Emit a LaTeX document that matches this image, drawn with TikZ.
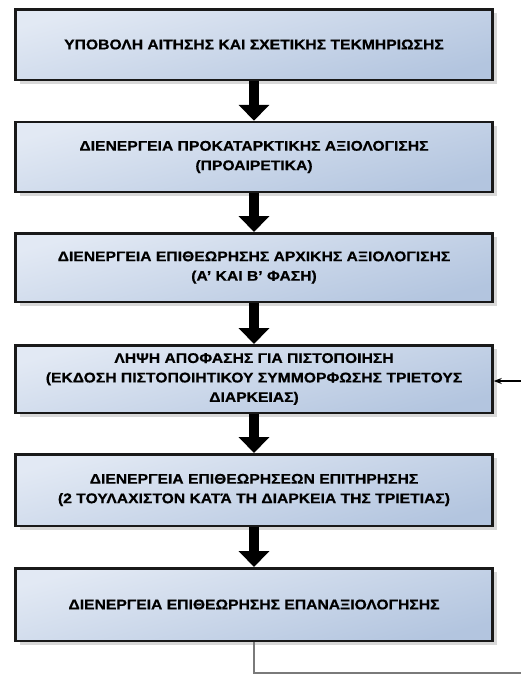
\documentclass[tikz,border=0pt]{standalone}
\usepackage{fontspec}
\setmainfont{Liberation Sans}
\newfontfamily\boxfont[FakeStretch=1.12,BoldFeatures={FakeBold=0.6}]{Liberation Sans}
\usetikzlibrary{arrows.meta,shadows}
\definecolor{boxtop}{HTML}{E2E9F4}
\definecolor{boxbot}{HTML}{B3C5DF}
\definecolor{fbgray}{HTML}{7A7A7A}
\tikzset{
  stepbox/.style={draw=black!90, line width=2.5pt, shade, top color=boxtop, bottom color=boxbot,
    shading angle=15, minimum width=477pt, align=center,
    font=\boxfont\bfseries\fontsize{14pt}{19.5pt}\selectfont, inner sep=0pt,
    drop shadow={shadow xshift=4pt, shadow yshift=-4pt, fill=black!30, opacity=0.5}},
  bigarrow/.style={line width=10pt, -{Triangle[width=30pt,length=16pt]}, shorten >=0pt},
}
\begin{document}
\begin{tikzpicture}[x=1pt,y=-1pt]
\useasboundingbox (0,0) rectangle (521,675);
\node[stepbox, minimum height=70.5pt] (b1) at (254,44.5) {ΥΠΟΒΟΛΗ ΑΙΤΗΣΗΣ ΚΑΙ ΣΧΕΤΙΚΗΣ ΤΕΚΜΗΡΙΩΣΗΣ};
\node[stepbox, minimum height=70pt] (b2) at (254,157) {ΔΙΕΝΕΡΓΕΙΑ ΠΡΟΚΑΤΑΡΚΤΙΚΗΣ ΑΞΙΟΛΟΓΙΣΗΣ\\(ΠΡΟΑΙΡΕΤΙΚΑ)};
\node[stepbox, minimum height=68.5pt] (b3) at (254,267.5) {ΔΙΕΝΕΡΓΕΙΑ ΕΠΙΘΕΩΡΗΣΗΣ ΑΡΧΙΚΗΣ ΑΞΙΟΛΟΓΙΣΗΣ\\(Α’ ΚΑΙ Β’ ΦΑΣΗ)};
\node[stepbox, minimum height=67.5pt] (b4) at (254,379) {ΛΗΨΗ ΑΠΟΦΑΣΗΣ ΓΙΑ ΠΙΣΤΟΠΟΙΗΣΗ\\(ΕΚΔΟΣΗ ΠΙΣΤΟΠΟΙΗΤΙΚΟΥ ΣΥΜΜΟΡΦΩΣΗΣ ΤΡΙΕΤΟΥΣ\\ΔΙΑΡΚΕΙΑΣ)};
\node[stepbox, minimum height=71.5pt] (b5) at (254,490) {ΔΙΕΝΕΡΓΕΙΑ ΕΠΙΘΕΩΡΗΣΕΩΝ ΕΠΙΤΗΡΗΣΗΣ\\(2 ΤΟΥΛΑΧΙΣΤΟΝ ΚΑΤΆ ΤΗ ΔΙΑΡΚΕΙΑ ΤΗΣ ΤΡΙΕΤΙΑΣ)};
\node[stepbox, minimum height=72.5pt] (b6) at (254,604.5) {ΔΙΕΝΕΡΓΕΙΑ ΕΠΙΘΕΩΡΗΣΗΣ ΕΠΑΝΑΞΙΟΛΟΓΗΣΗΣ};
\foreach \a/\b in {b1/b2,b2/b3,b3/b4,b4/b5,b5/b6}
  \draw[bigarrow] (\a.south) -- (\b.north);
\coordinate (fbl) at (521,673);
\coordinate (fbt) at (521,381);
\draw[fbgray, line width=1.3pt] (b6.south) |- (fbl);
\draw[black, line width=1.2pt, -{Stealth[length=8pt,width=6pt]}] (fbt) -- (b4.east |- fbt);
\end{tikzpicture}
\end{document}
